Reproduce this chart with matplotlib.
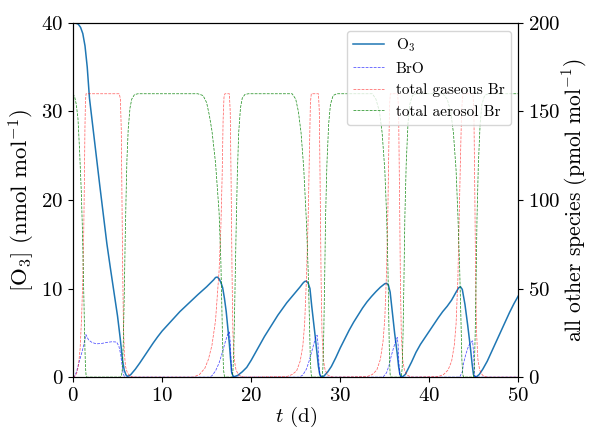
import matplotlib
matplotlib.use("Agg")
import matplotlib.pyplot as plt

plt.rcParams['font.family'] = ['cmr10', 'DejaVu Serif']
plt.rcParams['mathtext.fontset'] = 'cm'
plt.rcParams['axes.formatter.use_mathtext'] = True
plt.rcParams['axes.unicode_minus'] = False

# --- O3 (nmol/mol), axe de gauche ---
o3_t = [0, 0.3, 0.6, 0.85, 1.1, 1.35, 1.6, 1.85, 2.2, 2.6, 3.0, 3.4, 3.8, 4.2, 4.6, 5.0,
        5.3, 5.55, 5.75, 5.95, 6.1, 6.3, 6.5, 7.0, 7.5, 8.0, 8.5, 9.0, 9.5, 10.0, 11.0,
        12.0, 13.0, 14.0, 15.0, 15.5, 15.8, 16.0, 16.2, 16.4, 16.6, 16.8, 17.0, 17.2,
        17.4, 17.55, 17.7, 17.8, 17.95, 18.1, 18.5, 19.0, 19.5, 20.0, 20.5, 21.0, 21.5,
        22.0, 22.5, 23.0, 23.5, 24.0, 24.5, 25.0, 25.5, 25.8, 26.0, 26.2, 26.4, 26.6,
        26.8, 27.0, 27.2, 27.4, 27.55, 27.7, 27.85, 28.0, 28.2, 28.6, 29.0, 29.5, 30.0,
        30.5, 31.0, 31.5, 32.0, 32.5, 33.0, 33.5, 34.0, 34.5, 35.0, 35.2, 35.4, 35.6,
        35.85, 36.1, 36.4, 36.55, 36.7, 36.85, 37.0, 37.3, 37.6, 38.0, 38.5, 39.0, 39.5,
        40.0, 40.5, 41.0, 41.5, 42.0, 42.5, 43.0, 43.3, 43.5, 43.7, 44.0, 44.3, 44.6,
        44.8, 44.95, 45.1, 45.3, 45.6, 46.0, 46.5, 47.0, 47.5, 48.0, 48.5, 49.0, 49.5, 50.0]
o3_v = [40, 39.98, 39.85, 39.5, 38.8, 37.4, 35.0, 31.5, 28.5, 25.0, 21.7, 18.4, 15.1, 12.3,
        9.6, 6.9, 4.4, 2.0, 0.8, 0.25, 0.1, 0.15, 0.3, 0.9, 1.6, 2.35, 3.1, 3.85, 4.55, 5.2,
        6.3, 7.4, 8.35, 9.3, 10.2, 10.7, 11.0, 11.25, 11.3, 11.1, 10.7, 10.1, 8.9, 7.4, 5.4,
        3.8, 1.8, 0.6, 0.15, 0.05, 0.2, 0.6, 1.1, 1.9, 2.8, 3.7, 4.6, 5.4, 6.2, 7.0, 7.7,
        8.4, 9.0, 9.6, 10.2, 10.6, 10.8, 10.85, 10.6, 10.0, 8.0, 6.3, 4.5, 2.6, 1.2, 0.3,
        0.05, 0.05, 0.15, 0.6, 1.2, 2.2, 3.3, 4.3, 5.3, 6.2, 7.0, 7.8, 8.5, 9.1, 9.65,
        10.15, 10.55, 10.6, 10.4, 9.6, 7.3, 5.0, 2.6, 1.2, 0.3, 0.05, 0.05, 0.3, 0.9, 1.7,
        2.8, 3.7, 4.45, 5.2, 5.95, 6.7, 7.4, 8.0, 8.7, 9.6, 10.1, 10.2, 9.9, 8.2, 5.9, 3.4,
        1.5, 0.3, 0.05, 0.05, 0.3, 0.9, 1.8, 2.9, 4.0, 5.1, 6.2, 7.3, 8.3, 9.2]

# --- BrO (pmol/mol) ---
bro_t = [0, 0.15, 0.4, 0.6, 0.8, 1.0, 1.2, 1.35, 1.45, 1.55, 1.75, 2.1, 2.6, 3.2, 3.8, 4.4,
         4.9, 5.15, 5.35, 5.5, 5.62, 5.75, 5.9,
         15.3, 15.6, 16.0, 16.4, 16.8, 17.1, 17.35, 17.55, 17.65, 17.75, 17.85, 18.0,
         25.4, 25.8, 26.2, 26.5, 26.8, 27.05, 27.25, 27.4, 27.5, 27.6, 27.7, 27.85,
         34.8, 35.2, 35.5, 35.7, 35.95, 36.2, 36.4, 36.5, 36.58, 36.68, 36.8,
         43.4, 43.7, 43.85, 44.1, 44.4, 44.65, 44.85, 44.95, 45.02, 45.1, 45.2, 50.0]
bro_v = [0, 0.2, 3, 7, 10.5, 14, 18, 21.5, 24, 23, 21, 19.7, 18.8, 19, 19.6, 20,
         19.8, 17.5, 13, 7, 2.5, 0.5, 0,
         0, 0.8, 3.5, 8, 14.5, 20, 24, 25.5, 20, 9, 2, 0,
         0, 1.2, 4.5, 9, 14.5, 19, 22.5, 23.7, 19, 8, 1.5, 0,
         0, 2.5, 7, 11.5, 16, 20, 22.4, 18, 8, 1.5, 0,
         0, 3, 8, 13, 17.6, 19.5, 20.5, 15, 6, 1, 0, 0]

# --- Br gazeux total (pmol/mol) ---
gas_t = [0, 0.2, 0.4, 0.6, 0.8, 0.97, 1.1, 1.2, 1.28, 1.34, 1.4, 1.47, 5.2, 5.32, 5.42,
         5.5, 5.58, 5.66, 5.76, 5.9, 6.1, 6.35, 6.7, 7.0,
         13.5, 14.2, 14.8, 15.2, 15.6, 16.0, 16.4, 16.6, 16.75, 16.85, 16.95, 17.05,
         17.55, 17.65, 17.75, 17.85, 17.95, 18.1, 18.3, 18.6, 19.0, 19.4,
         24.0, 24.6, 25.1, 25.5, 25.8, 26.0, 26.2, 26.4, 26.55, 26.65, 26.75, 27.55,
         27.65, 27.75, 27.85, 27.95, 28.1, 28.3, 28.6, 29.0, 29.3,
         33.0, 33.6, 34.1, 34.5, 34.8, 35.0, 35.2, 35.35, 35.45, 35.55, 35.62, 36.45,
         36.55, 36.65, 36.75, 36.85, 37.0, 37.2, 37.5, 37.9, 38.2,
         41.0, 41.6, 42.1, 42.5, 42.8, 43.0, 43.2, 43.35, 43.5, 43.62, 43.72, 43.8,
         44.9, 45.0, 45.1, 45.2, 45.3, 45.45, 45.65, 45.95, 46.3, 46.6, 50.0]
gas_v = [0, 0.5, 2, 6, 16, 34, 55, 80, 110, 140, 156, 160, 160, 157, 140,
         100, 60, 30, 14, 6, 2.5, 0.8, 0.1, 0,
         0, 1.5, 5, 10, 18, 32, 60, 85, 115, 145, 158, 160,
         160, 150, 110, 60, 25, 10, 4, 1.2, 0.2, 0,
         0.3, 1.5, 3.5, 9, 17.6, 30, 55, 90, 130, 155, 160, 160,
         150, 105, 55, 25, 10, 4, 1.2, 0.2, 0,
         0.3, 1.5, 4, 10, 20, 33, 60, 95, 130, 155, 160, 160,
         150, 105, 55, 25, 10, 4, 1.2, 0.2, 0,
         0.3, 1.5, 4, 9, 18, 30, 55, 90, 125, 150, 158, 160,
         160, 150, 105, 55, 25, 10, 4, 1.2, 0.2, 0, 0]

# --- Br aérosol total (pmol/mol) ---
aer_t = [0, 0.2, 0.37, 0.56, 0.74, 0.93, 1.05, 1.15, 1.25, 1.33, 1.4, 1.47, 1.55,
         5.3, 5.45, 5.55, 5.65, 5.75, 5.85, 5.95, 6.05, 6.2, 6.4, 6.6, 6.9, 7.3,
         14.0, 14.6, 15.0, 15.3, 15.6, 16.0, 16.4, 16.6, 16.72, 16.82, 16.9, 17.0, 17.1,
         17.85, 17.95, 18.05, 18.15, 18.3, 18.45, 18.6, 18.8, 19.0, 19.3, 19.7,
         24.6, 25.0, 25.3, 25.6, 25.9, 26.2, 26.4, 26.55, 26.65, 26.75, 26.85,
         27.95, 28.05, 28.15, 28.25, 28.35, 28.5, 28.7, 28.9, 29.2, 29.6,
         33.6, 34.0, 34.4, 34.7, 35.0, 35.2, 35.35, 35.45, 35.53, 35.6, 35.7,
         36.85, 36.95, 37.05, 37.15, 37.25, 37.4, 37.6, 37.8, 38.1, 38.5,
         41.5, 42.0, 42.4, 42.7, 43.0, 43.2, 43.4, 43.55, 43.65, 43.75, 43.85,
         44.95, 45.05, 45.15, 45.25, 45.35, 45.5, 45.7, 45.9, 46.2, 46.6, 50.0]
aer_v = [160, 158, 154, 146, 128, 105, 85, 62, 38, 18, 6, 1, 0,
         0, 1, 5, 20, 45, 75, 100, 122, 140, 152, 157, 159.5, 160,
         160, 159, 155, 148, 139, 121, 93, 65, 37, 15, 4, 0.5, 0,
         0, 3, 15, 40, 80, 115, 138, 152, 157.5, 159.6, 160,
         160, 157, 150, 138, 118, 88, 60, 30, 8, 1, 0,
         0, 5, 25, 55, 90, 120, 143, 154, 159, 160,
         160, 157, 150, 138, 117, 92, 62, 32, 10, 1.5, 0,
         0, 5, 25, 55, 90, 120, 143, 154, 159, 160,
         160, 157, 150, 138, 117, 92, 62, 32, 10, 1.5, 0,
         0, 5, 25, 55, 90, 120, 143, 154, 159, 160, 160]

fig = plt.figure(figsize=(5.9, 4.32), dpi=100)
ax1 = fig.add_axes([0.1237, 0.127, 0.755, 0.82])
ax2 = ax1.twinx()

l1, = ax1.plot(o3_t, o3_v, color='C0', lw=1.1, label='O$_3$')
l2, = ax2.plot(bro_t, bro_v, 'b--', lw=0.55, alpha=0.7, label='BrO')
l3, = ax2.plot(gas_t, gas_v, 'r--', lw=0.55, alpha=0.6, label='total gaseous Br')
l4, = ax2.plot(aer_t, aer_v, 'g--', lw=0.55, alpha=0.85, label='total aerosol Br')

ax1.set_xlim(0, 50)
ax1.set_ylim(0, 40)
ax2.set_ylim(0, 200)
ax1.set_xticks([0, 10, 20, 30, 40, 50])
ax1.set_yticks([0, 10, 20, 30, 40])
ax2.set_yticks([0, 50, 100, 150, 200])
ax1.tick_params(labelsize=15)
ax2.tick_params(labelsize=15)

ax1.set_xlabel('$t$ (d)', fontsize=15, labelpad=0)
ax1.set_ylabel(r'[O$_3$] (nmol mol$^{-1}$)', fontsize=16.5, labelpad=3)
ax2.set_ylabel(r'all other species (pmol mol$^{-1}$)', fontsize=15.5, labelpad=0)

ax2.legend(handles=[l1, l2, l3, l4], loc='upper right', fontsize=11)

fig.savefig('out.png', dpi=100)
